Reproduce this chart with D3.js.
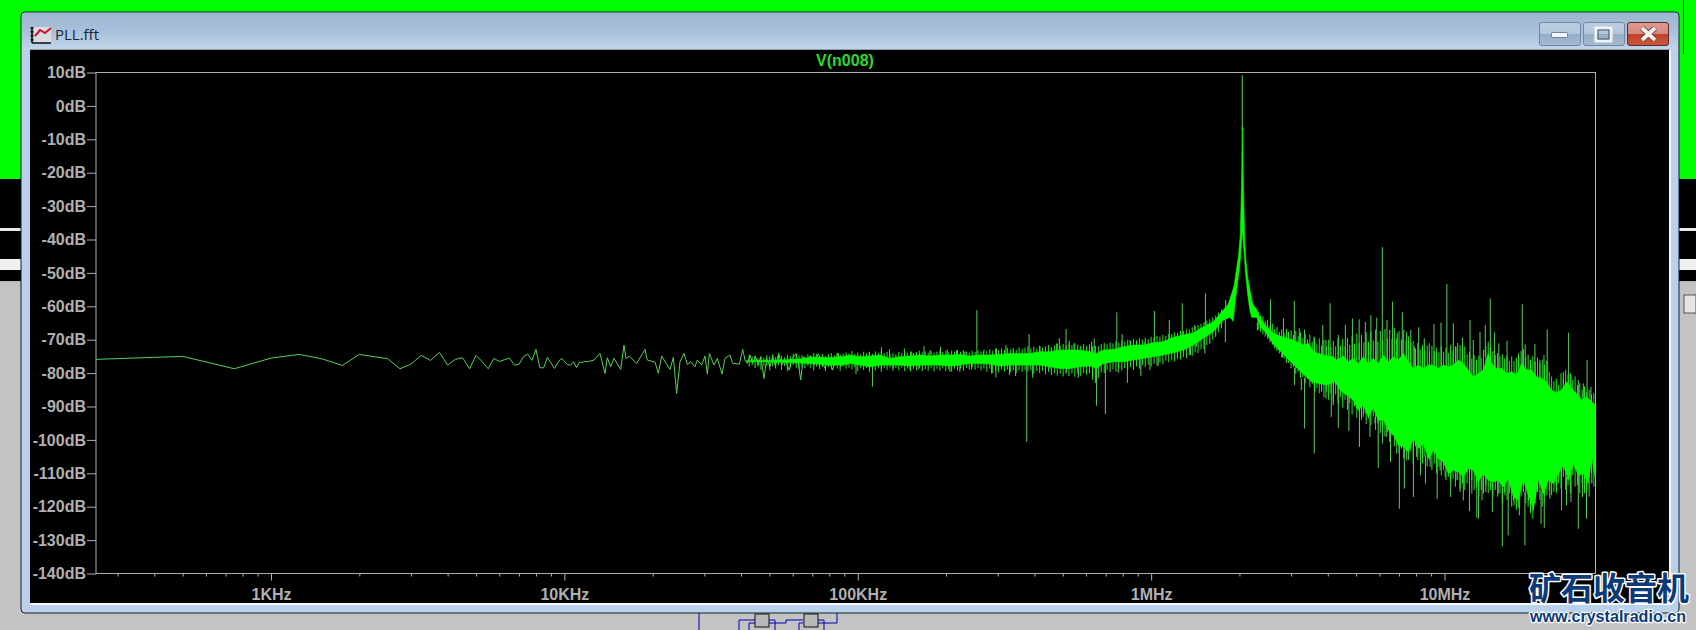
<!DOCTYPE html>
<html><head><meta charset="utf-8">
<script src="https://cdn.jsdelivr.net/npm/d3@7/dist/d3.min.js"></script>
<style>html,body{margin:0;padding:0;background:#c3c3c3;overflow:hidden}svg{display:block}</style>
</head><body><svg id="c" width="1696" height="630"></svg>
<script>
// ---------- data ----------
const chartTitle = "V(n008)";
const windowTitle = "PLL.fft";
const yTicks = [10,0,-10,-20,-30,-40,-50,-60,-70,-80,-90,-100,-110,-120,-130,-140];
const xMajor = [1e3,1e4,1e5,1e6,1e7];
const xLabels = ["1KHz","10KHz","100KHz","1MHz","10MHz"];
const xMinor = [300,400,500,600,700,800,900,2e3,3e3,4e3,5e3,6e3,7e3,8e3,9e3,2e4,3e4,4e4,5e4,6e4,7e4,8e4,9e4,2e5,3e5,4e5,5e5,6e5,7e5,8e5,9e5,2e6,3e6,4e6,5e6,6e6,7e6,8e6,9e6,2e7,3e7];
// FFT bins in Hz at the low end, where each point can be read
const lowHz = [250,500,750,1000,1250,1500,1750,2000,2250,2500,2750,3000,3250,3500,3750,4000,4250,4500,4750,5000,5250,5500,5750,6000,6250,6500,6750,7000,7250,7500,7750,8000,8250,8500,8750,9000,9250,9500,9750,10000,10250,10500,10750,11000,11250,11500,11750,12000];
const lowDb = [-75.9,-75.0,-78.7,-75.5,-74.4,-75.8,-77.7,-74.4,-75.1,-75.7,-78.7,-77.3,-74.7,-76.2,-73.8,-77.6,-75.9,-75.4,-78.7,-74.7,-76.6,-78.7,-75.6,-76.5,-76,-75.5,-77.6,-77.4,-75.1,-74.3,-76.2,-72.9,-78.4,-78.4,-75.3,-76.9,-78.6,-76.9,-75.6,-76.4,-77.5,-77.6,-76.6,-78.3,-76.8,-76.8,-76.5,-76.6];
// the trace above 12 kHz: [log10(Hz), dB]
const midTrace = [[4.101,-76.1],[4.1214,-74.1],[4.1384,-80.1],[4.1464,-75.4],[4.1577,-78.1],[4.1691,-75.6],[4.1918,-78.9],[4.2032,-71.6],[4.21,-75.6],[4.2214,-74.9],[4.2464,-77.1],[4.2748,-72.9],[4.2828,-76.1],[4.3089,-76.7],[4.3203,-80.1],[4.3316,-74.9],[4.36,-78.9],[4.3714,-75.3],[4.3827,-86.1],[4.3941,-76.6],[4.4077,-74.1],[4.4191,-77.4],[4.4305,-76.6],[4.4452,-78.1],[4.4532,-76.1],[4.468,-77.6],[4.4793,-74.9],[4.4873,-80.3],[4.4941,-74.1],[4.51,-77.6],[4.5214,-75.6],[4.5373,-80.3],[4.5475,-75.6],[4.5646,-74.6],[4.5737,-77.1],[4.5964,-77.3],[4.6078,-72.9],[4.6157,-76.1],[4.6237,-77.1],[4.6328,-74.6],[4.6418,-77.1],[4.6509,-74.9],[4.6612,-77.6],[4.6691,-75.1],[4.6805,-81.6],[4.6896,-75.6],[4.7009,-78.1],[4.71,-74.9],[4.7191,-77.9],[4.7305,-74.1],[4.7407,-77.6],[4.752,-76.1],[4.7668,-79.1],[4.7759,-75.6],[4.7896,-74.3],[4.7975,-77.1],[4.8055,-82.1],[4.8146,-75.1],[4.8259,-77.1],[4.8373,-74.9],[4.8509,-77.6],[4.8657,-74.3],[4.8771,-76.3],[4.8884,-78.6],[4.8998,-75.6],[4.9146,-79.1],[4.9225,-75.9],[4.9339,-74.1],[4.9418,-78.1],[4.9532,-75.1],[4.9623,-77.6],[4.9714,-75.9]];
// solid band: top and bottom edges, [log10(Hz), dB]
const bandTop = [[4.62,-76.3],[4.70,-76.2],[4.80,-75.8],[4.85,-75.2],[4.90,-75.4],[4.95,-75.0],[4.973,-74.6],[5.008,-75.1],[5.042,-74.9],[5.076,-74.6],[5.110,-75.6],[5.144,-75.1],[5.178,-74.9],[5.212,-74.6],[5.246,-74.9],[5.280,-74.6],[5.314,-74.6],[5.348,-74.4],[5.382,-74.9],[5.416,-74.6],[5.451,-74.6],[5.485,-74.4],[5.519,-74.1],[5.553,-74.1],[5.587,-74.1],[5.621,-73.6],[5.655,-73.6],[5.689,-73.1],[5.723,-73.1],[5.757,-73.1],[5.791,-73.6],[5.814,-74.1],[5.837,-73.1],[5.871,-72.9],[5.905,-72.1],[5.939,-71.6],[5.973,-71.6],[6.007,-70.9],[6.041,-70.6],[6.075,-69.3],[6.110,-68.6],[6.144,-67.9],[6.178,-66.1],[6.212,-64.6],[6.246,-61.1],[6.263,-59.3],[6.274,-56.3],[6.283,-53.8],[6.291,-48.8],[6.298,-44.8],[6.304,-38.3],[6.3072,-26.3],[6.3089,-18.3],[6.3100,-6.3],[6.3123,-6.3],[6.3134,-18.3],[6.3151,-26.3],[6.3185,-39.3],[6.323,-46.3],[6.329,-51.3],[6.337,-55.3],[6.346,-59.3],[6.359,-60.8],[6.371,-63.6],[6.394,-66.1],[6.417,-68.1],[6.451,-69.3],[6.485,-70.1],[6.519,-71.6],[6.536,-71.1],[6.553,-73.6],[6.587,-74.6],[6.621,-75.1],[6.632,-76.1],[6.655,-74.9],[6.672,-76.6],[6.689,-75.6],[6.706,-77.1],[6.723,-75.1],[6.740,-77.1],[6.757,-75.6],[6.774,-77.1],[6.792,-74.6],[6.809,-76.6],[6.826,-75.1],[6.843,-76.1],[6.860,-74.1],[6.877,-76.6],[6.894,-78.6],[6.911,-77.6],[6.928,-78.6],[6.945,-77.6],[6.962,-77.6],[6.979,-78.6],[6.996,-77.6],[7.013,-78.1],[7.030,-77.6],[7.047,-76.1],[7.064,-77.1],[7.081,-79.1],[7.098,-81.1],[7.115,-80.1],[7.132,-79.1],[7.149,-74.1],[7.161,-77.1],[7.178,-78.6],[7.195,-78.6],[7.212,-80.1],[7.229,-79.6],[7.246,-80.6],[7.263,-77.1],[7.280,-79.1],[7.297,-79.1],[7.314,-81.1],[7.331,-81.6],[7.348,-82.6],[7.365,-85.1],[7.382,-85.9],[7.399,-85.1],[7.416,-82.6],[7.433,-84.6],[7.450,-86.1],[7.467,-88.1],[7.484,-87.1],[7.501,-88.6],[7.515,-89.6]];
const bandBottom = [[4.62,-76.5],[4.70,-76.6],[4.80,-77.0],[4.85,-77.2],[4.90,-77.6],[4.95,-77.6],[4.973,-77.1],[5.008,-77.6],[5.042,-78.1],[5.076,-77.6],[5.110,-77.6],[5.144,-77.6],[5.178,-77.9],[5.212,-77.6],[5.246,-77.6],[5.280,-77.6],[5.314,-77.9],[5.348,-77.6],[5.382,-77.1],[5.416,-77.1],[5.451,-77.3],[5.485,-77.9],[5.519,-77.6],[5.553,-77.6],[5.587,-77.6],[5.621,-77.6],[5.655,-78.1],[5.689,-78.6],[5.723,-78.6],[5.757,-78.1],[5.791,-77.9],[5.814,-78.6],[5.837,-77.1],[5.871,-76.6],[5.905,-76.6],[5.939,-76.1],[5.973,-75.6],[6.007,-75.1],[6.041,-74.6],[6.075,-73.9],[6.110,-73.1],[6.144,-71.6],[6.178,-69.6],[6.212,-67.6],[6.246,-64.1],[6.2685,-63.3],[6.280,-64.5],[6.2856,-59.3],[6.2969,-51.3],[6.3049,-45.3],[6.3106,-37.3],[6.3163,-43.3],[6.322,-50.3],[6.3288,-56.3],[6.3367,-61.3],[6.3424,-63.3],[6.3595,-63.3],[6.371,-65.8],[6.394,-68.3],[6.416,-71.3],[6.450,-74.3],[6.484,-77.3],[6.507,-79.3],[6.547,-82.6],[6.598,-83.6],[6.627,-82.6],[6.644,-85.1],[6.667,-86.6],[6.689,-88.1],[6.706,-91.1],[6.723,-89.6],[6.740,-93.1],[6.757,-90.6],[6.774,-94.1],[6.792,-94.1],[6.809,-97.1],[6.826,-98.6],[6.843,-101.6],[6.860,-102.1],[6.877,-103.6],[6.894,-99.6],[6.911,-102.6],[6.928,-101.1],[6.945,-105.6],[6.962,-103.1],[6.979,-105.6],[6.996,-106.6],[7.013,-110.1],[7.030,-109.1],[7.047,-109.6],[7.064,-111.1],[7.081,-108.6],[7.098,-109.1],[7.115,-112.6],[7.132,-110.1],[7.149,-112.1],[7.166,-112.6],[7.183,-112.1],[7.200,-114.1],[7.217,-111.6],[7.235,-117.1],[7.251,-118.1],[7.269,-112.1],[7.286,-116.6],[7.303,-120.6],[7.320,-112.1],[7.337,-116.1],[7.354,-112.1],[7.371,-113.1],[7.388,-110.1],[7.405,-107.6],[7.422,-112.1],[7.439,-107.1],[7.456,-110.6],[7.473,-110.1],[7.490,-113.1],[7.502,-105.1],[7.515,-112.1]];
// isolated spikes above the band, [log10(Hz), dB]
const upSpikes = [[5.039,-73.6],[5.081,-72.3],[5.108,-72.9],[5.159,-72.6],[5.184,-73.6],[5.226,-71.9],[5.246,-73.1],[5.282,-72.1],[5.305,-72.9],[5.337,-73.1],[5.365,-73.6],[5.406,-61.1],[5.428,-73.6],[5.473,-72.6],[5.505,-71.6],[5.530,-73.3],[5.584,-68.3],[5.621,-72.1],[5.661,-73.1],[5.678,-71.1],[5.687,-69.6],[5.710,-66.8],[5.721,-70.3],[5.737,-71.1],[5.797,-70.6],[5.806,-69.6],[5.883,-61.8],[5.901,-68.3],[5.928,-70.1],[5.962,-71.6],[5.979,-70.6],[6.011,-61.4],[6.062,-64.1],[6.106,-59.1],[6.149,-65.6],[6.185,-56.1],[6.254,-58.1],[6.3105,9.2],[6.407,-57.9],[6.451,-63.6],[6.468,-67.6],[6.488,-58.4],[6.505,-66.6],[6.523,-66.9],[6.555,-69.1],[6.585,-65.6],[6.596,-70.1],[6.610,-59.1],[6.638,-68.6],[6.662,-65.6],[6.686,-63.6],[6.709,-63.9],[6.730,-64.7],[6.749,-62.6],[6.769,-63.4],[6.788,-42.3],[6.804,-64.1],[6.823,-58.6],[6.839,-68.1],[6.856,-61.8],[6.871,-67.6],[6.885,-67.1],[6.897,-72.1],[6.912,-66.3],[6.931,-69.6],[6.948,-71.1],[6.964,-65.3],[6.988,-64.9],[7.008,-53.3],[7.030,-65.1],[7.039,-72.1],[7.061,-69.4],[7.087,-64.1],[7.098,-70.1],[7.121,-67.6],[7.139,-65.6],[7.156,-57.6],[7.170,-67.8],[7.185,-71.1],[7.213,-70.3],[7.252,-74.1],[7.265,-59.4],[7.275,-71.4],[7.294,-77.6],[7.308,-71.3],[7.325,-76.1],[7.339,-74.6],[7.350,-66.9],[7.405,-79.6],[7.423,-67.9],[7.431,-80.6],[7.456,-82.1],[7.473,-83.1],[7.486,-76.1],[7.499,-84.1]];
// isolated spikes below the band, [log10(Hz), dB]
const downSpikes = [[4.994,-80.3],[5.050,-84.1],[5.081,-78.9],[5.121,-78.6],[5.178,-79.1],[5.206,-78.9],[5.314,-79.6],[5.348,-79.6],[5.388,-78.9],[5.456,-80.1],[5.471,-81.3],[5.517,-80.6],[5.538,-80.9],[5.576,-100.6],[5.596,-81.4],[5.655,-78.6],[5.712,-79.6],[5.752,-81.4],[5.814,-89.8],[5.844,-92.3],[5.888,-79.9],[5.919,-82.9],[5.965,-80.9],[5.996,-79.1],[6.024,-77.9],[6.089,-75.1],[6.134,-74.6],[6.155,-72.1],[6.183,-74.1],[6.253,-70.8],[6.362,-67.3],[6.407,-70.3],[6.448,-75.3],[6.489,-83.6],[6.512,-85.1],[6.523,-96.6],[6.556,-104.1],[6.581,-85.6],[6.596,-87.6],[6.614,-93.1],[6.621,-89.6],[6.638,-96.4],[6.674,-97.3],[6.710,-102.1],[6.723,-93.1],[6.732,-91.6],[6.746,-99.1],[6.763,-95.1],[6.774,-108.4],[6.789,-101.1],[6.803,-99.1],[6.816,-106.6],[6.837,-104.1],[6.846,-120.6],[6.863,-114.6],[6.871,-106.1],[6.894,-117.1],[6.905,-105.1],[6.918,-110.6],[6.935,-113.1],[6.951,-108.1],[6.975,-117.6],[6.985,-109.1],[7.002,-111.1],[7.021,-117.1],[7.039,-112.1],[7.053,-115.6],[7.064,-118.1],[7.085,-121.3],[7.093,-116.1],[7.110,-123.3],[7.116,-123.6],[7.128,-118.1],[7.141,-115.6],[7.163,-121.6],[7.183,-116.1],[7.197,-131.9],[7.206,-116.6],[7.217,-128.6],[7.235,-118.1],[7.255,-122.6],[7.274,-131.6],[7.286,-118.1],[7.303,-121.1],[7.329,-125.1],[7.340,-126.3],[7.359,-117.6],[7.382,-115.1],[7.399,-121.1],[7.416,-119.6],[7.431,-118.6],[7.456,-126.6],[7.470,-117.1],[7.484,-123.6],[7.502,-113.1]];
// the fine fringe of the band: [log10(Hz), top dB, bottom dB] of each hair
const fringeLeft = [[4.63,-74.5,-78],[4.64,-75,-77.5],[4.65,-74.8,-78.5],[4.66,-75.5,-78],[4.67,-75,-79],[4.68,-75.4,-78],[4.69,-74.6,-77.8],[4.70,-75,-79.2],[4.71,-74.4,-78],[4.72,-75.2,-78.6],[4.73,-74,-77.6],[4.74,-74.8,-79],[4.75,-75.3,-77.9],[4.76,-74.5,-79.4],[4.77,-74.9,-78.2],[4.78,-74.2,-77.6],[4.79,-74.1,-78.4],[4.80,-74.7,-78.9],[4.81,-74.6,-78.1],[4.82,-75,-78.6],[4.83,-74.3,-77.9],[4.84,-74.6,-78.4],[4.85,-74,-79.2],[4.86,-74.2,-78.1],[4.87,-74.8,-78.8],[4.88,-74.3,-78.2],[4.89,-74.9,-79.4],[4.90,-74.4,-78.2],[4.91,-74,-78.9],[4.92,-74.6,-78],[4.93,-73.9,-78.6],[4.94,-74.4,-79.3],[4.95,-74.2,-78.1],[4.96,-73.8,-78.7],[4.97,-74.1,-78.4],[4.98,-73.4,-78.9],[4.99,-74.2,-78.2],[5.00,-73.8,-79.4],[5.01,-74.3,-78.6],[5.02,-73.6,-79.1],[5.03,-74.1,-78.5],[5.04,-73.7,-79.6],[5.05,-74.2,-78.7],[5.06,-73.5,-79.2],[5.07,-73.9,-78.6],[5.08,-73.3,-79.6],[5.09,-74,-78.4],[5.10,-73.6,-79],[5.11,-74.2,-78.3],[5.12,-73.9,-79.3],[5.13,-74.3,-78.5],[5.14,-73.7,-79.1],[5.15,-74,-78.4],[5.16,-73.4,-79.4],[5.17,-73.9,-78.6],[5.18,-73.5,-79.5],[5.19,-74,-78.7],[5.20,-73.7,-79.2],[5.21,-73.3,-78.6],[5.22,-73.8,-79.4],[5.23,-73.5,-78.8],[5.24,-73.9,-79.3],[5.25,-73.4,-78.5],[5.26,-73.8,-79.5],[5.27,-73.6,-78.7],[5.28,-73.2,-79.2],[5.29,-73.7,-78.6],[5.30,-73.4,-79.4],[5.31,-73.8,-78.9],[5.32,-73.3,-79.6],[5.33,-73.5,-78.7],[5.34,-73.2,-79.2],[5.35,-73.6,-78.6],[5.36,-73.1,-79.3],[5.37,-73.5,-78.4],[5.38,-73.8,-78.9],[5.39,-73.3,-78.2],[5.40,-73.7,-79],[5.41,-73.2,-78.4],[5.42,-73.5,-79.2],[5.43,-73,-78.6],[5.44,-73.4,-79.6],[5.45,-72.9,-78.7],[5.46,-73.3,-80],[5.47,-72.7,-79.1],[5.48,-73.2,-79.7],[5.49,-72.6,-78.9],[5.50,-73,-79.5],[5.51,-72.4,-79],[5.52,-72.9,-79.8],[5.53,-72.5,-79.2],[5.54,-73,-80],[5.55,-72.3,-79.1],[5.56,-72.8,-79.6],[5.57,-72.4,-79],[5.58,-72,-79.5],[5.59,-72.6,-79.1],[5.60,-72.1,-80.2],[5.61,-72.7,-79.4],[5.62,-71.8,-80],[5.63,-72.4,-79.3],[5.64,-72,-80.4],[5.65,-71.6,-79.6],[5.66,-72.2,-80.6],[5.67,-71.7,-80],[5.68,-71.2,-80.8],[5.69,-71.8,-80.1],[5.70,-71.3,-81],[5.71,-71.9,-80.2],[5.72,-71.2,-80.9],[5.73,-71.6,-80.1],[5.74,-71,-81.1],[5.75,-71.5,-80.2],[5.76,-71.8,-80.8],[5.77,-71.3,-79.9],[5.78,-71.9,-80.5],[5.79,-71.4,-80],[5.80,-72,-82],[5.81,-71.8,-83],[5.82,-71.9,-81.4],[5.83,-71.3,-79.8],[5.84,-71,-80],[5.85,-71.4,-79],[5.86,-70.9,-79.7],[5.87,-71.1,-78.9],[5.88,-70.5,-79.6],[5.89,-70.9,-78.6],[5.90,-70.2,-79.2],[5.91,-70.6,-78.5],[5.92,-70,-79],[5.93,-70.4,-78.2],[5.94,-69.8,-79],[5.95,-70.2,-78],[5.96,-69.6,-78.7],[5.97,-70,-77.6],[5.98,-69.4,-78.2],[5.99,-69.8,-77.5],[6.00,-69.1,-78],[6.01,-69.4,-77.2],[6.02,-68.9,-77.7],[6.03,-69.1,-76.8],[6.04,-68.5,-77.3],[6.05,-68.8,-76.3],[6.06,-68.2,-76.8],[6.07,-68.3,-76],[6.08,-67.8,-76.5],[6.09,-67.9,-75.7],[6.10,-67.4,-75.9],[6.11,-67.4,-75.2],[6.12,-66.9,-75.5],[6.13,-66.9,-74.6],[6.14,-66.3,-74.8],[6.15,-66.1,-73.8],[6.16,-65.6,-74],[6.17,-65.2,-72.8],[6.18,-64.8,-72.8],[6.19,-64.3,-71.6],[6.20,-63.9,-71.2],[6.21,-63.3,-70],[6.22,-62.8,-69.2],[6.23,-61.9,-67.8],[6.24,-61,-66.6]];
const fringeRight = [[6.365,-61.5,-67],[6.373,-62.8,-67.6],[6.381,-63,-68.4],[6.389,-64.4,-69.1],[6.397,-64,-69.8],[6.405,-65.6,-70.8],[6.413,-65.2,-71.5],[6.421,-66.8,-72.6],[6.429,-66.2,-73.4],[6.437,-67.6,-74.1],[6.445,-66.9,-75.3],[6.453,-68,-75.6],[6.461,-66.8,-77],[6.469,-68.2,-77],[6.477,-67.2,-78.6],[6.485,-68.6,-78.2],[6.493,-67.4,-80.2],[6.501,-69,-79.6],[6.509,-67.8,-81.4],[6.517,-69.6,-81.2],[6.525,-68.2,-83],[6.533,-70,-81.8],[6.541,-68.4,-84.2],[6.549,-70.6,-83.2],[6.557,-69.4,-85.4],[6.565,-71.4,-84.4],[6.573,-69.6,-86],[6.581,-71.8,-85],[6.589,-70,-87.2],[6.597,-72,-85.6],[6.605,-70,-88],[6.613,-72.2,-86],[6.621,-70.4,-88.4],[6.629,-72,-86.4],[6.637,-69.6,-89],[6.645,-71.8,-87.2],[6.653,-69.8,-90.4],[6.661,-72,-88],[6.669,-69.4,-91],[6.677,-71.6,-89],[6.685,-68.8,-92.4],[6.693,-71.2,-90],[6.701,-68.2,-93.4],[6.709,-71,-91.6],[6.717,-68.6,-94],[6.725,-70.8,-92],[6.733,-67.8,-95.2],[6.741,-70.6,-93.6],[6.749,-67.6,-95.6],[6.757,-70.2,-93],[6.765,-67,-97],[6.773,-70.6,-95],[6.781,-67.4,-98],[6.789,-70,-96],[6.797,-66.8,-99],[6.805,-69.6,-97.6],[6.813,-67,-100.6],[6.821,-69.8,-98.6],[6.829,-66.4,-102],[6.837,-69.6,-100.6],[6.845,-67.4,-104],[6.853,-70,-102.6],[6.861,-67,-105.6],[6.869,-70.2,-103.4],[6.877,-69,-106],[6.885,-71,-103.4],[6.893,-70.4,-107],[6.901,-72.6,-102],[6.909,-71,-106],[6.917,-73,-104],[6.925,-71.6,-107],[6.933,-73.4,-105],[6.941,-71.8,-108],[6.949,-73.6,-106],[6.957,-71.8,-109],[6.965,-73.4,-107],[6.973,-72.4,-110],[6.981,-73.8,-108],[6.989,-72,-110.6],[6.997,-73.6,-109],[7.005,-72.4,-112],[7.013,-74,-111],[7.021,-71.6,-113],[7.029,-73.4,-111.6],[7.037,-72,-114],[7.045,-71,-112],[7.053,-71.6,-114.6],[7.061,-72.6,-113],[7.069,-72,-115],[7.077,-74.4,-113],[7.085,-73.6,-116],[7.093,-75.6,-112],[7.101,-74.6,-115],[7.109,-76,-114],[7.117,-74.8,-117],[7.125,-75.4,-115],[7.133,-73,-116],[7.141,-72,-113.6],[7.149,-70.6,-116],[7.157,-72.4,-115],[7.165,-73.4,-117],[7.173,-74.6,-115],[7.181,-74,-117],[7.189,-75,-116],[7.197,-74.4,-119],[7.205,-75.6,-115.6],[7.213,-75,-118],[7.221,-76.4,-116],[7.229,-75,-120],[7.237,-76.4,-119.6],[7.245,-75.4,-121],[7.253,-75,-120.4],[7.261,-73.4,-117],[7.269,-72.8,-115.6],[7.277,-75,-119],[7.285,-74.4,-120],[7.293,-76,-122],[7.301,-75,-123.6],[7.309,-76.6,-119],[7.317,-75.4,-115.6],[7.325,-77,-118],[7.333,-76,-120],[7.341,-77.6,-117],[7.349,-76.4,-116.6],[7.357,-79.6,-115],[7.365,-81,-116.6],[7.373,-82.4,-115.6],[7.381,-81.6,-116],[7.389,-83.6,-113],[7.397,-80,-114.6],[7.405,-81.6,-111],[7.413,-79,-115],[7.421,-80.4,-113.6],[7.429,-80,-116],[7.437,-82,-110.6],[7.445,-81,-114],[7.453,-83.6,-113.6],[7.461,-83,-116],[7.469,-85,-113],[7.477,-84,-116],[7.485,-85.6,-115],[7.493,-85,-117],[7.501,-86.4,-110],[7.509,-86,-114]];

// ---------- page furniture ----------
const svg = d3.select("#c");
const defs = svg.append("defs");
const grad = (id, stops) => { const g = defs.append("linearGradient").attr("id",id).attr("x1",0).attr("x2",0).attr("y1",0).attr("y2",1);
  stops.forEach(s => g.append("stop").attr("offset",s[0]).attr("stop-color",s[1])); };
grad("bar",[[0,"#9db6cf"],[0.5,"#a9c1da"],[1,"#c2d6ec"]]);
grad("btn",[[0,"#bccfe2"],[0.5,"#b2c6da"],[0.52,"#95adc6"],[1,"#a6bcd4"]]);
grad("cls",[[0,"#dd9a92"],[0.48,"#d68a80"],[0.52,"#c0402a"],[1,"#c85a3c"]]);
const R = (x,y,w,h,f) => svg.append("rect").attr("x",x).attr("y",y).attr("width",w).attr("height",h).attr("fill",f);
const P = (d,s,w) => svg.append("path").attr("d",d).attr("fill","none").attr("stroke",s).attr("stroke-width",w);

R(0,0,1696,630,"#c3c3c3");
R(0,0,1696,179,"#00ff00");
R(0,179,21,104,"#000"); R(1679,179,17,104,"#000");
R(0,228,21,3,"#e8e8e8"); R(0,259,21,11,"#f0f0f0"); R(0,281,21,2,"#bbb");
R(1679,228,17,3,"#e8e8e8"); R(1679,259,17,11,"#f0f0f0"); R(1679,281,17,2,"#bbb");
R(1684,295,12,18,"#e6e6e6").attr("stroke","#555");
R(1683,0,1,54,"#000");
// bottom schematic peeking out below the window
const wires = ["M699,613V630","M739,620V630M739,620H755","M749,630V623H755","M769,620H775V630","M769,623H786V620H803","M799,630V623H803","M818,620H824V630","M818,623H837V613"];
wires.forEach(d => P(d,"#0000b0",1));
R(755,614,14,13,"#b9b9b9").attr("stroke","#111"); R(804,614,14,13,"#b9b9b9").attr("stroke","#111");
// window frame
svg.append("rect").attr("x",21).attr("y",12).attr("width",1658).attr("height",601).attr("rx",4).attr("fill","#b9d1ea").attr("stroke","#10202c").attr("stroke-width",1);
svg.append("path").attr("d","M22,50V17Q22,13 26,13H1674Q1678,13 1678,17V50Z").attr("fill","url(#bar)");
R(30,50,1640,554,"#000");
R(30,49,1640,1,"#8f9aa6");
R(30,603,1640,2,"#f4f8fc"); R(1669,50,2,555,"#f0f5fb");
const btn = (x,w,f,s) => svg.append("rect").attr("x",x).attr("y",22.5).attr("width",w).attr("height",23).attr("rx",2.5).attr("fill",f).attr("stroke",s);
btn(1539.5,41,"url(#btn)","#6f88a2"); btn(1583.5,41,"url(#btn)","#6f88a2"); btn(1627.5,41,"url(#cls)","#5a2a30");
svg.append("rect").attr("x",1551.5).attr("y",32.5).attr("width",16).attr("height",5).attr("rx",1).attr("fill","#f4f7fa").attr("stroke","#4a5f78").attr("stroke-width",.7);
svg.append("rect").attr("x",1596).attr("y",28).attr("width",15).attr("height",13).attr("fill","none").attr("stroke","#f0f3f7").attr("stroke-width",3);
svg.append("rect").attr("x",1598).attr("y",30).attr("width",11).attr("height",9).attr("fill","none").attr("stroke","#44566e").attr("stroke-width",1);
svg.append("path").attr("d","M1642,28L1655,40M1655,28L1642,40").attr("stroke","#5a3030").attr("stroke-width",5.5);
svg.append("path").attr("d","M1642,28L1655,40M1655,28L1642,40").attr("stroke","#f5eeee").attr("stroke-width",4);
// title icon
R(34,27,17,15,"#d8dde4");
P("M32,27V43M32,43H51","#111",1.6);
P("M32,27V43","#111",3).attr("stroke-dasharray","1.5 2.5");
P("M35,36L40,30L45,33L51,28","#d01028",2);
svg.append("text").attr("x",55).attr("y",40).attr("font-family","'Open Sans',sans-serif").attr("font-size",15).attr("fill","#14233a").text(windowTitle);

// ---------- chart ----------
const X = d3.scaleLog().domain([Math.pow(10,2.4035),Math.pow(10,7.5146)]).range([96,1595.5]);
const Y = d3.scaleLinear().domain([-140,10]).range([573.5,72.5]);
const hz = l => Math.pow(10,l);
const grey = "#b0b0b0", trace = "#58cf58", hair = "#22ea22";
defs.append("clipPath").attr("id","plot").append("rect").attr("x",96).attr("y",72.5).attr("width",1499.5).attr("height",501);

const styleAxis = g => { g.select(".domain").remove(); g.selectAll("line").attr("stroke",grey);
  g.selectAll("text").attr("font-family","'Liberation Sans',Arial,sans-serif").attr("font-weight","bold").attr("font-size",16).attr("fill",grey); };
svg.append("g").attr("transform","translate(96,0)")
  .call(d3.axisLeft(Y).tickValues(yTicks).tickSize(9).tickPadding(1).tickFormat(d => d+"dB")).call(styleAxis);
svg.append("g").attr("transform","translate(0,573.5)")
  .call(d3.axisBottom(X).tickValues(xMajor).tickSize(7).tickPadding(8).tickFormat((d,i) => xLabels[i])).call(styleAxis);
svg.append("g").attr("transform","translate(0,573.5)")
  .call(d3.axisBottom(X).tickValues(xMinor).tickSize(3).tickFormat("")).call(styleAxis);
svg.append("rect").attr("x",96).attr("y",72.5).attr("width",1499.5).attr("height",501).attr("fill","none").attr("stroke",grey);
svg.append("text").attr("x",845).attr("y",66).attr("text-anchor","middle")
  .attr("font-family","'Liberation Sans',Arial,sans-serif").attr("font-weight","bold").attr("font-size",16).attr("fill","#2fd82f").text(chartTitle);

const plot = svg.append("g").attr("clip-path","url(#plot)");
const edge = (arr,l) => { const i = Math.min(arr.length-1, d3.bisector(d=>d[0]).left(arr,l)); return arr[i][1]; };
plot.append("g").selectAll("line").data(upSpikes).join("line")
  .attr("x1",d=>X(hz(d[0]))).attr("x2",d=>X(hz(d[0]))).attr("y1",d=>Y(d[1])).attr("y2",d=>Y(edge(bandTop,d[0])-1))
  .attr("stroke",trace).attr("stroke-width",1);
plot.append("g").selectAll("line").data(downSpikes).join("line")
  .attr("x1",d=>X(hz(d[0]))).attr("x2",d=>X(hz(d[0]))).attr("y1",d=>Y(d[1])).attr("y2",d=>Y(edge(bandBottom,d[0])+1))
  .attr("stroke",trace).attr("stroke-width",1);
const lineGen = d3.line().x(d=>X(d[0])).y(d=>Y(d[1]));
const lowPts = lowHz.map((f,i)=>[f,lowDb[i]]).concat(midTrace.map(d=>[hz(d[0]),d[1]]));
plot.append("path").attr("d",lineGen(lowPts)).attr("fill","none").attr("stroke",trace).attr("stroke-width",1);
plot.append("g").selectAll("line").data(fringeLeft.concat(fringeRight)).join("line")
  .attr("x1",d=>X(hz(d[0]))).attr("x2",d=>X(hz(d[0]))).attr("y1",d=>Y(d[1])).attr("y2",d=>Y(d[2]))
  .attr("stroke",hair).attr("stroke-width",1);
const bandPts = bandTop.concat(bandBottom.slice().reverse()).map(d=>[hz(d[0]),d[1]]);
plot.append("path").attr("d",lineGen(bandPts)+"Z").attr("fill","#00ff00").attr("stroke","#00ff00").attr("stroke-width",.6);

// ---------- watermark ----------
const wm = (t,x,y,fs,fam,sw) => svg.append("text").attr("x",x).attr("y",y).attr("font-family",fam).attr("font-weight","bold")
  .attr("font-size",fs).attr("fill","#0b3a78").attr("stroke","#fff").attr("stroke-width",sw).attr("paint-order","stroke").attr("stroke-linejoin","round").text(t);
wm("矿石收音机",1529,600,32,"'Noto Sans CJK SC',sans-serif",3);
wm("www.crystalradio.cn",1530,622,17,"'Liberation Sans',sans-serif",2.5).attr("textLength",156).attr("lengthAdjust","spacingAndGlyphs");
</script></body></html>
